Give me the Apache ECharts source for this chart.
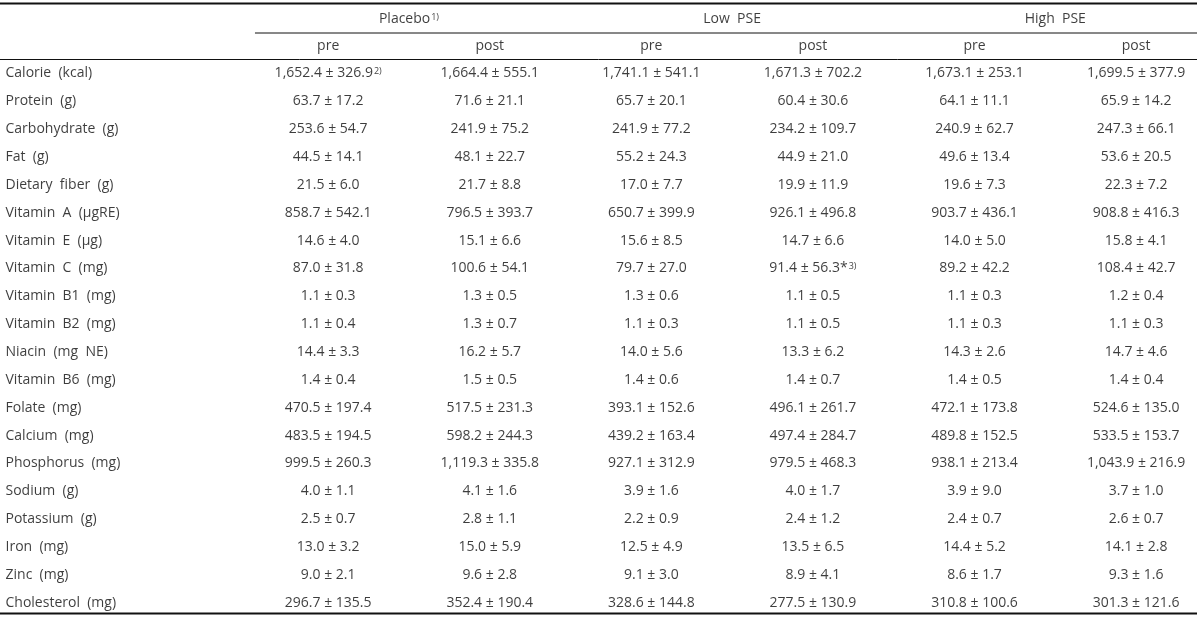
<!DOCTYPE html>
<html><head><meta charset="utf-8">
<script src="https://cdn.jsdelivr.net/npm/echarts@6/dist/echarts.min.js"></script>
<style>html,body{margin:0;padding:0;background:#fff}#c{width:1200px;height:617px}</style>
</head><body><div id="c"></div>
<script>
const rowLabels = ['Calorie  (kcal)','Protein  (g)','Carbohydrate  (g)','Fat  (g)','Dietary  fiber  (g)','Vitamin  A  (μgRE)','Vitamin  E  (μg)','Vitamin  C  (mg)','Vitamin  B1  (mg)','Vitamin  B2  (mg)','Niacin  (mg  NE)','Vitamin  B6  (mg)','Folate  (mg)','Calcium  (mg)','Phosphorus  (mg)','Sodium  (g)','Potassium  (g)','Iron  (mg)','Zinc  (mg)','Cholesterol  (mg)'];
const groups = ['Placebo','Low  PSE','High  PSE'];
const groupNotes = ['1)','',''];
const phases = ['pre','post','pre','post','pre','post'];

const placeboPreMean  = [1652.4,63.7,253.6,44.5,21.5,858.7,14.6,87.0,1.1,1.1,14.4,1.4,470.5,483.5,999.5,4.0,2.5,13.0,9.0,296.7];
const placeboPreSD    = [326.9,17.2,54.7,14.1,6.0,542.1,4.0,31.8,0.3,0.4,3.3,0.4,197.4,194.5,260.3,1.1,0.7,3.2,2.1,135.5];
const placeboPostMean = [1664.4,71.6,241.9,48.1,21.7,796.5,15.1,100.6,1.3,1.3,16.2,1.5,517.5,598.2,1119.3,4.1,2.8,15.0,9.6,352.4];
const placeboPostSD   = [555.1,21.1,75.2,22.7,8.8,393.7,6.6,54.1,0.5,0.7,5.7,0.5,231.3,244.3,335.8,1.6,1.1,5.9,2.8,190.4];
const lowPreMean      = [1741.1,65.7,241.9,55.2,17.0,650.7,15.6,79.7,1.3,1.1,14.0,1.4,393.1,439.2,927.1,3.9,2.2,12.5,9.1,328.6];
const lowPreSD        = [541.1,20.1,77.2,24.3,7.7,399.9,8.5,27.0,0.6,0.3,5.6,0.6,152.6,163.4,312.9,1.6,0.9,4.9,3.0,144.8];
const lowPostMean     = [1671.3,60.4,234.2,44.9,19.9,926.1,14.7,91.4,1.1,1.1,13.3,1.4,496.1,497.4,979.5,4.0,2.4,13.5,8.9,277.5];
const lowPostSD       = [702.2,30.6,109.7,21.0,11.9,496.8,6.6,56.3,0.5,0.5,6.2,0.7,261.7,284.7,468.3,1.7,1.2,6.5,4.1,130.9];
const highPreMean     = [1673.1,64.1,240.9,49.6,19.6,903.7,14.0,89.2,1.1,1.1,14.3,1.4,472.1,489.8,938.1,3.9,2.4,14.4,8.6,310.8];
const highPreSD       = [253.1,11.1,62.7,13.4,7.3,436.1,5.0,42.2,0.3,0.3,2.6,0.5,173.8,152.5,213.4,9.0,0.7,5.2,1.7,100.6];
const highPostMean    = [1699.5,65.9,247.3,53.6,22.3,908.8,15.8,108.4,1.2,1.1,14.7,1.4,524.6,533.5,1043.9,3.7,2.6,14.1,9.3,301.3];
const highPostSD      = [377.9,14.2,66.1,20.5,7.2,416.3,4.1,42.7,0.4,0.3,4.6,0.4,135.0,153.7,216.9,1.0,0.7,2.8,1.6,121.6];

const cellNotes = [{row:0,col:0,mark:'',sup:'2)'},{row:7,col:3,mark:'*',sup:'3)'}];

const columns = [
  [placeboPreMean, placeboPreSD], [placeboPostMean, placeboPostSD],
  [lowPreMean, lowPreSD], [lowPostMean, lowPostSD],
  [highPreMean, highPreSD], [highPostMean, highPostSD]
];

function fmt(v){
  const s = v.toFixed(1).split('.');
  return s[0].replace(/\B(?=(\d{3})+(?!\d))/g, ',') + '.' + s[1];
}

const FONT = 'Open Sans';
const FS = 14;
const TXT = '#0d0d0d';
const rich = {
  v: {fontFamily: FONT, fontSize: FS, color: TXT},
  s: {fontFamily: FONT, fontSize: 9, color: TXT, verticalAlign: 'top', padding: [0,0,0,1]}
};

const X_MIN = -1.031, X_MAX = 6.377, X_SUB = 0.547;
const ROW_H = 27.85;
const Y_MIN = -73.5 / ROW_H, Y_MAX = Y_MIN + 617 / ROW_H;
const yPix = p => p / ROW_H + Y_MIN;

const bodyData = [];
columns.forEach((col, c) => {
  col[0].forEach((m, r) => {
    const note = cellNotes.find(n => n.row === r && n.col === c);
    bodyData.push({value: [c + 1, r], text: fmt(m) + ' ± ' + fmt(col[1][r]), mark: note ? note.mark : '', sup: note ? note.sup : ''});
  });
});
const rowData = rowLabels.map((l, r) => ({value: [-1, r], text: l}));
const groupData = groups.map((g, i) => ({value: [2 * i + 1.5, yPix(19.5)], text: g, sup: groupNotes[i]}));
const phaseData = phases.map((p, i) => ({value: [i + 1, -1], text: p, sup: ''}));

const richFmt = p => '{v|' + p.data.text + '}' + (p.data.mark ? '{v|' + p.data.mark + '}' : '') + (p.data.sup ? '{s|' + p.data.sup + '}' : '');

function textSeries(data, pos) {
  return {
    type: 'scatter', data: data, symbolSize: 1, silent: true,
    itemStyle: {color: 'rgba(0,0,0,0)'},
    label: {show: true, position: pos, distance: 0, formatter: richFmt, rich: rich}
  };
}
function rule(x1, x2, y, w) {
  return {
    type: 'line', data: [[x1, yPix(y)], [x2, yPix(y)]], symbol: 'none', silent: true,
    lineStyle: {color: '#111', width: w}
  };
}

const chart = echarts.init(document.getElementById('c'), null, {renderer: 'canvas'});
chart.setOption({
  animation: false,
  grid: {left: 0, right: 3, top: 0, bottom: 0},
  xAxis: {type: 'value', min: X_MIN, max: X_MAX, show: false},
  yAxis: {type: 'value', min: Y_MIN, max: Y_MAX, inverse: true, show: false},
  series: [
    textSeries(bodyData, 'inside'),
    textSeries(rowData, 'right'),
    textSeries(groupData, 'inside'),
    textSeries(phaseData, 'inside'),
    rule(X_MIN, X_MAX, 3.5, 2),
    rule(X_SUB, X_MAX, 33, 1),
    rule(X_MIN, X_MAX, 59.5, 1),
    rule(X_MIN, X_MAX, 613.5, 2)
  ]
});
</script></body></html>
